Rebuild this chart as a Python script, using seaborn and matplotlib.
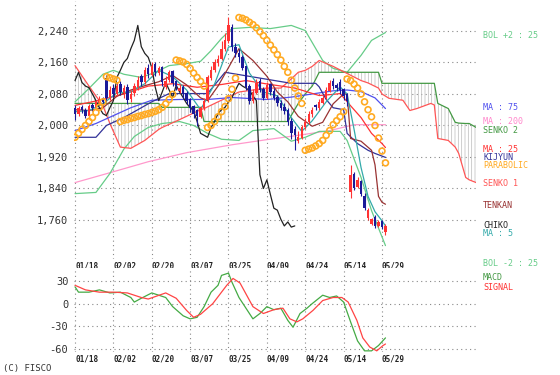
import matplotlib
matplotlib.use('Agg')
import matplotlib.pyplot as plt
import seaborn as sns

# ---- daily candles (day 0 = 01/18) ----
opens = [2045, 2030, 2048, 2040, 2025, 2052, 2045, 2058, 2070, 2120,
         2072, 2095, 2080, 2105, 2082, 2098, 2066, 2082, 2098, 2125,
         2110, 2145, 2128, 2155, 2132, 2148, 2098, 2115, 2138, 2112,
         2088, 2098, 2082, 2066, 2050, 2040, 2022, 2045, 2065, 2120,
         2140, 2158, 2170, 2195, 2215, 2250, 2198, 2185, 2175, 2150,
         2100, 2062, 2083, 2112, 2092, 2070, 2105, 2088, 2073, 2058,
         2048, 2040, 2012, 1990, 1960, 1968, 1995, 2008, 2028, 2052,
         2045, 2058, 2070, 2088, 2112, 2102, 2110, 2092, 2080, 1830,
         1878, 1845, 1858, 1822, 1765, 1750, 1768, 1745, 1758, 1730]
highs = [2052, 2050, 2052, 2045, 2055, 2058, 2065, 2075, 2072, 2128,
         2100, 2105, 2110, 2112, 2102, 2105, 2090, 2108, 2125, 2130,
         2148, 2155, 2160, 2162, 2152, 2150, 2125, 2142, 2142, 2115,
         2105, 2102, 2088, 2070, 2052, 2042, 2050, 2070, 2128, 2150,
         2168, 2180, 2215, 2235, 2276, 2258, 2210, 2195, 2180, 2152,
         2105, 2092, 2118, 2120, 2098, 2110, 2108, 2095, 2078, 2065,
         2058, 2045, 2018, 1998, 1985, 2002, 2018, 2038, 2048, 2055,
         2068, 2078, 2098, 2115, 2120, 2108, 2118, 2095, 2082, 1900,
         1882, 1870, 1862, 1828, 1790, 1766, 1772, 1760, 1760, 1750]
lows = [2015, 2025, 2032, 2018, 2020, 2038, 2040, 2052, 2052, 2060,
        2065, 2072, 2075, 2078, 2070, 2055, 2060, 2075, 2090, 2100,
        2105, 2120, 2125, 2125, 2128, 2100, 2092, 2110, 2100, 2090,
        2082, 2070, 2055, 2035, 2020, 1998, 2018, 2040, 2060, 2115,
        2135, 2150, 2165, 2190, 2210, 2190, 2175, 2160, 2140, 2090,
        2055, 2058, 2080, 2085, 2065, 2068, 2078, 2065, 2050, 2040,
        2030, 2000, 1965, 1938, 1955, 1965, 1990, 2005, 2022, 2040,
        2040, 2055, 2068, 2085, 2092, 2088, 2080, 2065, 2050, 1815,
        1835, 1840, 1820, 1785, 1760, 1748, 1740, 1742, 1738, 1722]
closes = [2030, 2045, 2040, 2025, 2050, 2045, 2060, 2068, 2060, 2070,
          2090, 2080, 2100, 2085, 2095, 2065, 2080, 2100, 2115, 2110,
          2140, 2130, 2150, 2135, 2145, 2110, 2114, 2135, 2109, 2100,
          2096, 2080, 2063, 2045, 2030, 2025, 2045, 2063, 2122, 2140,
          2160, 2170, 2195, 2216, 2254, 2200, 2183, 2173, 2147, 2097,
          2063, 2085, 2109, 2090, 2071, 2102, 2085, 2071, 2056, 2045,
          2038, 2010, 1980, 1975, 1970, 1995, 2010, 2030, 2040, 2046,
          2060, 2071, 2090, 2107, 2100, 2095, 2089, 2075, 2063, 1875,
          1840, 1862, 1825, 1790, 1785, 1762, 1745, 1755, 1742, 1745]

# parabolic SAR, one dot per day
sar = [1970, 1980, 1990, 2000, 2010, 2020, 2033, 2046, 2060,
       2124, 2121, 2118, 2115,
       2010, 2013, 2015, 2018, 2020, 2023, 2025, 2028, 2030, 2033, 2036,
       2040, 2046, 2055, 2066, 2079,
       2166, 2164, 2161, 2155, 2145, 2133, 2122, 2112, 2100,
       1995, 2000, 2010, 2022, 2035, 2048, 2068, 2092, 2120,
       2274, 2272, 2268, 2262, 2256, 2248, 2238, 2228, 2216, 2204, 2192,
       2180, 2166, 2150, 2135, 2115, 2095, 2075, 2056,
       1937, 1940, 1943, 1948, 1954, 1962, 1975, 1987, 2002, 2012, 2022, 2035,
       2118, 2114, 2105, 2095, 2080, 2060, 2040, 2022, 2000, 1968, 1935, 1905]

# indicator lines (day, value)
ma5_days = [0, 4, 8, 12, 16, 20, 24, 28, 32, 36, 40, 44, 47, 50, 54, 58, 62, 65, 68, 72, 76, 78, 80, 82, 84, 86, 88, 89]
ma5_vals = [2035, 2038, 2055, 2083, 2085, 2106, 2140, 2124, 2090, 2040, 2105, 2199, 2205, 2133, 2085, 2075, 2020, 1985,
            2012, 2060, 2098, 2080, 1990, 1893, 1820, 1781, 1758, 1745]
ma25_days = [0, 7, 14, 21, 28, 35, 42, 49, 56, 63, 70, 74, 76, 79, 82, 85, 88, 89]
ma25_vals = [2051, 2064, 2080, 2100, 2106, 2097, 2104, 2114, 2104, 2095, 2076, 2079, 2081, 2050, 2020, 1980, 1954, 1944]
ma75_days = [0, 6, 11, 16, 22, 30, 38, 45, 55, 62, 68, 74, 78, 82, 86, 89]
ma75_vals = [1987, 2005, 2025, 2045, 2064, 2066, 2066, 2071, 2066, 2072, 2080, 2088, 2090, 2086, 2070, 2043]
ma200_days = [0, 10, 21, 32, 45, 55, 64, 73, 80, 89]
ma200_vals = [1855, 1880, 1908, 1931, 1951, 1964, 1975, 1987, 2002, 2002]
bolu_days = [0, 4, 8, 11, 14, 19, 23, 27, 32, 36, 39, 42, 45, 50, 56, 62, 66, 71, 74, 78, 82, 85, 89]
bolu_vals = [2060, 2094, 2130, 2140, 2130, 2122, 2135, 2152, 2157, 2163, 2190, 2221, 2246, 2249, 2246, 2254, 2241,
             2165, 2145, 2135, 2178, 2216, 2236]
boll_days = [0, 6, 10, 14, 17, 21, 25, 30, 34, 38, 42, 47, 51, 57, 62, 66, 70, 76, 78, 82, 85, 89]
boll_vals = [1827, 1830, 1878, 1940, 1972, 1995, 2005, 2010, 2000, 1980, 1965, 1962, 1987, 1992, 1960, 1970, 1985,
             1985, 1962, 1868, 1784, 1695]
tenkan_days = [0, 4, 8, 12, 16, 20, 24, 28, 32, 36, 38, 41, 44, 47, 51, 55, 58, 61, 64, 68, 71, 74, 77, 78, 79, 82,
               85, 86, 87, 88, 89]
tenkan_vals = [2040, 2038, 2045, 2074, 2090, 2101, 2111, 2127, 2103, 2070, 2063, 2100, 2147, 2195, 2165, 2125, 2085,
               2060, 2023, 1998, 2008, 2055, 2080, 2080, 1967, 1960, 1937, 1900, 1820, 1805, 1800]
kijun_days = [0, 6, 9, 14, 18, 22, 27, 38, 43, 62, 69, 70, 72, 74, 77, 78, 81, 84, 86, 89]
kijun_vals = [1970, 1970, 2000, 2020, 2040, 2060, 2081, 2081, 2135, 2107, 2107, 2098, 2066, 2045, 2040, 1980, 1954,
              1937, 1929, 1919]
senko_days = [0, 4, 8, 10, 13, 16, 20, 24, 25, 30, 36, 37, 41, 47, 55, 59, 61, 64, 66, 68, 70, 74, 78, 82, 84, 87,
              88, 90, 94, 96, 98, 102, 103, 104, 107, 109, 110, 112, 113, 115]
senko1_vals = [2152, 2100, 2050, 2005, 1945, 1942, 1962, 1990, 1995, 2015, 2040, 2043, 2060, 2085, 2095, 2095, 2110,
               2135, 2140, 2150, 2165, 2150, 2132, 2114, 2108, 2095, 2080, 2069, 2064, 2038, 2043, 2056, 2052, 1967,
               1962, 1945, 1929, 1868, 1862, 1855]
senko2_vals = [2056, 2056, 2056, 2056, 2056, 2056, 2056, 2056, 2046, 2046, 2046, 2010, 2010, 2010, 2010, 2010, 2010,
               2056, 2080, 2100, 2135, 2135, 2135, 2135, 2135, 2135, 2107, 2107, 2107, 2107, 2107, 2107, 2107, 2056,
               2043, 2008, 2006, 2005, 2005, 1995]

# MACD panel
macd_days = [0, 1, 4, 7, 10, 13, 16, 17, 19, 22, 24, 26, 28, 31, 33, 35, 37, 39, 41, 42, 44, 45, 47, 50, 51, 53, 55,
             57, 59, 61, 62.5, 64.5, 66.5, 68, 71, 73, 75, 77, 79, 81, 83, 85, 87, 89]
macd_vals = [22, 15, 15, 18, 14, 15, 8, 2, 7, 14, 11, 8, -4, -16, -20, -18, -4, 15, 24, 37, 40, 28, 8, -13, -20, -13,
             -4, -8, -6, -22, -31, -13, -6, 0, 11, 8, 10, 2, -24, -49, -62, -62, -55, -45]
signal_days = [0, 3, 7, 11, 15, 19, 21, 23.5, 26, 29, 32, 34, 36, 39.5, 43.5, 45.3, 47.3, 51, 54, 57, 59.6, 61.6,
               63.6, 65.3, 68.2, 71, 74, 76.5, 78.3, 80.8, 82.5, 84.5, 86.5, 88.3, 89]
signal_vals = [24, 18, 15, 15, 14, 8, 6, 10, 14, 7, -9, -18, -14, 0, 24, 33, 27, -4, -13, -8, -6, -20, -24, -20, -9,
               4, 8, 8, 2, -22, -45, -57, -62, -55, -53]

date_ticks = [0, 11, 22, 33, 44, 55, 66, 77, 88]
date_labels = ['01/18', '02/02', '02/20', '03/07', '03/25', '04/09', '04/24', '05/14', '05/29']
price_ticks = [1760, 1840, 1920, 2000, 2080, 2160, 2240]
macd_ticks = [-60, -30, 0, 30]

# right side legend: text, pixel row, colour
legend_items = [('BOL +2 : 25', 36, '#66cc88'), ('MA : 75', 108, '#5050ee'),
                ('MA : 200', 122, '#ff88cc'), ('SENKO 2', 131, '#449944'),
                ('MA : 25', 150, '#ff3333'), ('KIJYUN', 158, '#333399'),
                ('PARABOLIC', 166, '#ffaa22'), ('SENKO 1', 183, '#ff5555'),
                ('TENKAN', 206, '#993333'), ('CHIKO', 225, '#222222'),
                ('MA : 5', 234, '#33aaaa'), ('BOL -2 : 25', 263, '#66cc88'),
                ('MACD', 278, '#449944'), ('SIGNAL', 288, '#ff3333')]

W, H = 560, 375
MONO = 'DejaVu Sans Mono'


def line(ax, x, y, color, lw=0.9, z=3):
    sns.lineplot(x=x, y=y, ax=ax, color=color, linewidth=lw, estimator=None, sort=False, zorder=z)


def style_axis(ax, yticks, ylabels):
    ax.set_xticks(date_ticks)
    ax.set_xticklabels(date_labels, fontsize=5.5, fontweight='bold', family=MONO, color='#222222')
    for lbl in ax.get_xticklabels():
        lbl.set_horizontalalignment('left')
    ax.set_yticks(yticks)
    ax.set_yticklabels(ylabels, fontsize=7.5, family=MONO, color='#333333')
    ax.tick_params(length=0, pad=2)
    ax.tick_params(axis='y', pad=4)
    ax.grid(True, linestyle=(0, (1, 3)), color='#888888', linewidth=0.8)
    for s in ax.spines.values():
        s.set_visible(False)
    ax.set_xlim(-0.29, 114.95)
    ax.set_xlabel('')
    ax.set_ylabel('')


sns.set_style('white')
plt.rcParams['font.family'] = [MONO]
plt.rcParams['hatch.linewidth'] = 0.5
plt.rcParams['hatch.color'] = '#bbbbbb'

fig = plt.figure(figsize=(W / 100, H / 100), dpi=100)
ax = fig.add_axes([74 / W, 1 - 259 / H, 402 / W, 258 / H])
axm = fig.add_axes([74 / W, 1 - 352 / H, 402 / W, 84 / H])

# ichimoku cloud hatching
ax.fill_between(senko_days, senko1_vals, senko2_vals, facecolor='none', edgecolor='#bbbbbb',
                hatch='|||||', linewidth=0, zorder=1)

line(ax, ma200_days, ma200_vals, '#ff99cc')
line(ax, bolu_days, bolu_vals, '#66cc88')
line(ax, boll_days, boll_vals, '#66cc88')
line(ax, senko_days, senko2_vals, '#449944')
line(ax, senko_days, senko1_vals, '#ff5555')
line(ax, ma75_days, ma75_vals, '#5050ee')
line(ax, ma25_days, ma25_vals, '#ff3333')
line(ax, kijun_days, kijun_vals, '#333399')
line(ax, tenkan_days, tenkan_vals, '#993333')
line(ax, ma5_days, ma5_vals, '#33aaaa')
# chikou span: closes shifted 26 days back
line(ax, list(range(len(closes) - 26)), closes[26:], '#222222')

# candles
days = list(range(len(closes)))
cols = ['#ff3333' if c >= o else '#1a1a99' for o, c in zip(opens, closes)]
ax.vlines(days, lows, highs, colors=cols, linewidth=0.8, zorder=4)
ax.bar(days, [max(abs(c - o), 2) for o, c in zip(opens, closes)], bottom=[min(o, c) for o, c in zip(opens, closes)],
       width=0.7, color=cols, linewidth=0, zorder=4)

sns.scatterplot(x=list(range(len(sar))), y=sar, ax=ax, marker='o', s=18, facecolor='none',
                edgecolor='#ffaa22', linewidth=1.2, zorder=5)

style_axis(ax, price_ticks, [f'{v:,}' for v in price_ticks])
ax.set_ylim(1661, 2316)

line(axm, macd_days, macd_vals, '#44aa44')
line(axm, signal_days, signal_vals, '#ff4444')
style_axis(axm, macd_ticks, [str(v) for v in macd_ticks])
axm.set_ylim(-63.5, 46.7)

for text, py, color in legend_items:
    fig.text(483 / W, 1 - py / H, text, color=color, fontsize=6, family=MONO, va='center', ha='left')
fig.text(3 / W, 1 - 368 / H, '(C) FISCO', color='#333333', fontsize=6.5, family=MONO, va='center')

fig.savefig('out.png', dpi=100, facecolor='white')
